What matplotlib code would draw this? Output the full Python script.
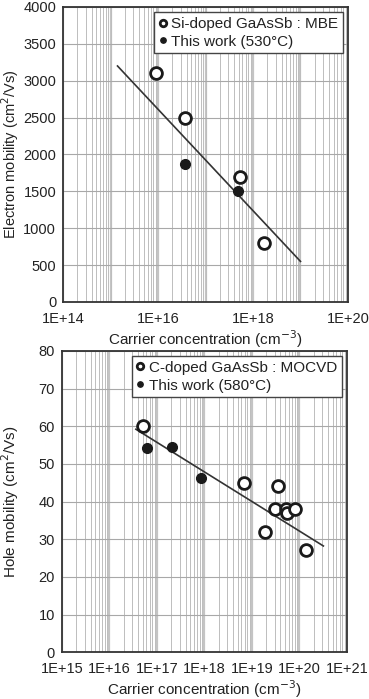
import numpy as np
import matplotlib
matplotlib.use("Agg")
import matplotlib.pyplot as plt
from matplotlib.ticker import FixedLocator, LogLocator, NullFormatter, FuncFormatter

plt.rcParams['font.family'] = ['Liberation Sans', 'DejaVu Sans']

# electron mobility (top)
n_mbe_x = [9e15, 3.7e16, 5.2e17, 1.7e18]
n_mbe_y = [3100, 2500, 1700, 800]
n_this_x = [3.7e16, 4.8e17]
n_this_y = [1870, 1500]
n_fit_x = [1.4e15, 1.0e19]
n_fit_y = [3200, 550]

# hole mobility (bottom)
p_mocvd_x = [5.1e16, 6.9e18, 1.9e19, 3.1e19, 3.6e19, 5.3e19, 5.5e19, 8.0e19, 1.35e20]
p_mocvd_y = [60, 45, 32, 38, 44, 38, 37, 38, 27]
p_this_x = [6.2e16, 2.1e17, 8.5e17]
p_this_y = [54.2, 54.4, 46.2]
p_fit_x = [3.6e16, 3.2e20]
p_fit_y = [59.2, 28.2]

TXT = '#222222'
fig = plt.figure(figsize=(3.69, 6.99), dpi=100)
ax1 = fig.add_axes([0.171, 0.568, 0.772, 0.422])
ax2 = fig.add_axes([0.168, 0.067, 0.772, 0.431])


def style(ax, xmin, xmax, ymax, ystep, label_decades):
    ax.set_xscale('log')
    ax.set_xlim(xmin, xmax)
    ax.set_ylim(0, ymax)
    ax.set_yticks(np.arange(0, ymax + 1, ystep))
    ax.xaxis.set_major_locator(FixedLocator(label_decades))
    ax.xaxis.set_major_formatter(FuncFormatter(lambda v, p: '1E+%d' % round(np.log10(v))))
    ax.xaxis.set_minor_locator(LogLocator(base=10, subs=np.arange(1, 10), numticks=100))
    ax.xaxis.set_minor_formatter(NullFormatter())
    ax.grid(True, which='minor', axis='x', color='#bdbdbd', lw=0.7)
    ax.grid(True, which='major', axis='y', color='#a8a8a8', lw=0.8)
    # decade lines a bit heavier
    for k in range(int(np.log10(xmin)), int(np.log10(xmax)) + 1):
        ax.axvline(10.0 ** k, color='#c4c4c4', lw=1.6, zorder=0)
    ax.tick_params(which='both', length=0, labelsize=10.5, colors=TXT)
    ax.tick_params(axis='y', pad=5)
    ax.tick_params(axis='x', pad=7)
    for s in ax.spines.values():
        s.set_color('#333333')
        s.set_linewidth(1.3)
    ax.set_axisbelow(True)


style(ax1, 1e14, 1e20, 4000, 500, [1e14, 1e16, 1e18, 1e20])
ax1.plot(n_fit_x, n_fit_y, color='#333333', lw=1.2)
ax1.plot(n_mbe_x, n_mbe_y, 'o', ms=8.5, mfc='white', mec='#1a1a1a', mew=2.0,
         ls='none', label='Si-doped GaAsSb : MBE')
ax1.plot(n_this_x, n_this_y, 'o', ms=7, color='#1a1a1a', ls='none',
         label='This work (530\u00b0C)')
ax1.set_xlabel('Carrier concentration (cm$^{-3}$)', fontsize=11, color=TXT, labelpad=2)
ax1.set_ylabel('Electron mobility (cm$^2$/Vs)', fontsize=10.5, color=TXT)

style(ax2, 1e15, 1e21, 80, 10, [10.0 ** k for k in range(15, 22)])
ax2.plot(p_fit_x, p_fit_y, color='#333333', lw=1.2)
ax2.plot(p_mocvd_x, p_mocvd_y, 'o', ms=8.5, mfc='white', mec='#1a1a1a', mew=2.0,
         ls='none', label='C-doped GaAsSb : MOCVD')
ax2.plot(p_this_x, p_this_y, 'o', ms=7, color='#1a1a1a', ls='none',
         label='This work (580\u00b0C)')
ax2.set_xlabel('Carrier concentration (cm$^{-3}$)', fontsize=11, color=TXT, labelpad=2)
ax2.set_ylabel('Hole mobility (cm$^2$/Vs)', fontsize=11, color=TXT)

ax1.yaxis.set_label_coords(-0.148, 0.5)
ax2.yaxis.set_label_coords(-0.143, 0.5)

for ax in (ax1, ax2):
    leg = ax.legend(loc='upper right', fontsize=11, handlelength=0.5, handletextpad=0.3,
                    borderpad=0.3, labelspacing=0.25, borderaxespad=0.35,
                    fancybox=False, framealpha=1, markerscale=0.55)
    leg.get_frame().set_edgecolor('#444444')
    leg.get_frame().set_linewidth(1.0)
    for t in leg.get_texts():
        t.set_color(TXT)

fig.savefig('out.png', dpi=100)
